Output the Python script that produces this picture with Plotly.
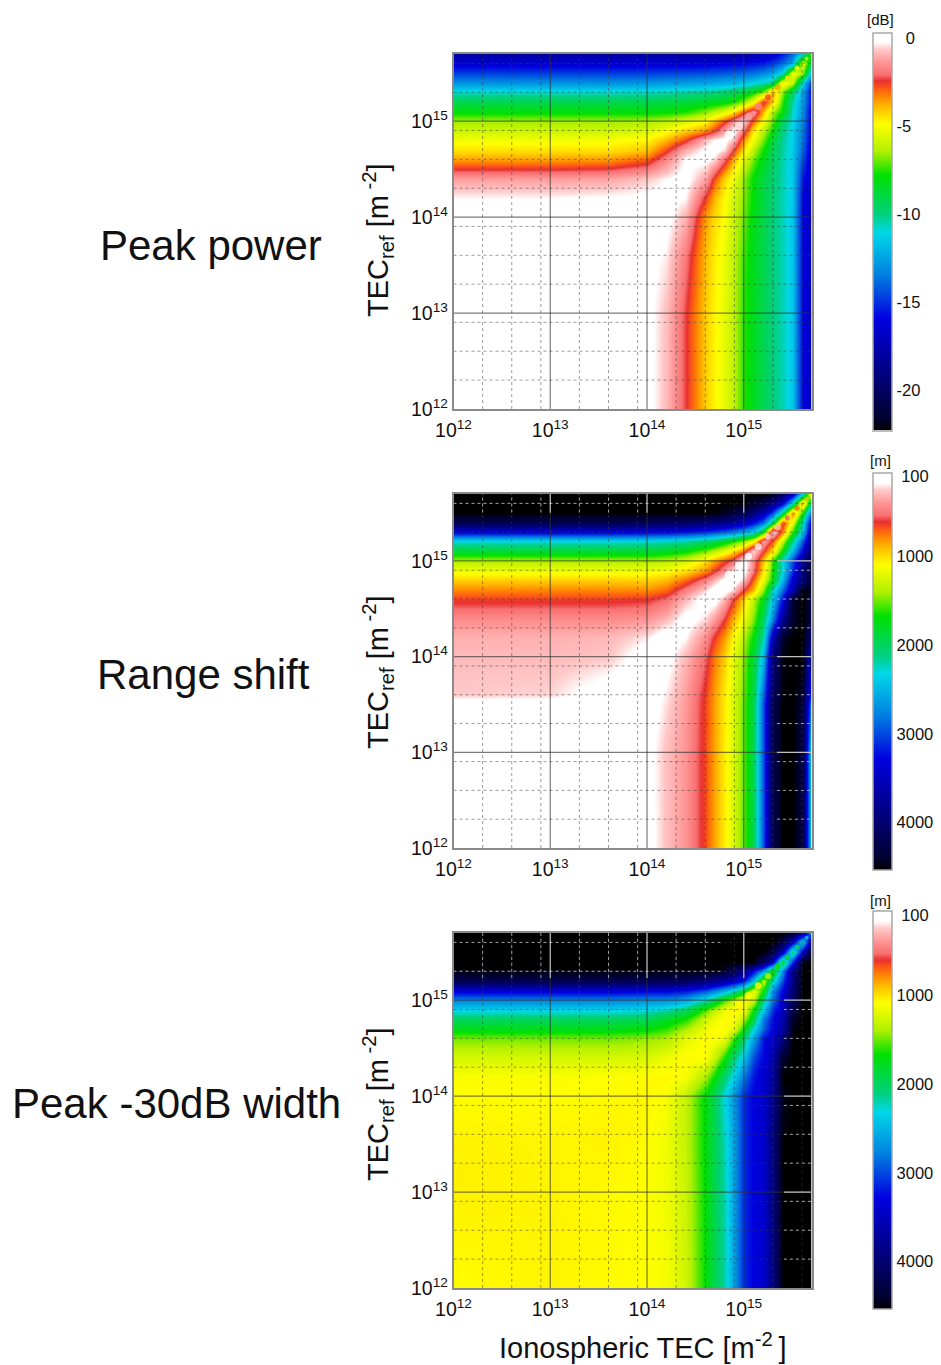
import plotly.graph_objects as go

W, H = 941, 1365

TEC_X = [1e12, 1e13, 4e13, 1e14, 1.6e14, 2.5e14, 4e14, 5e14, 6.3e14, 7.9e14, 1e15, 1.26e15, 1.6e15, 2e15, 2.5e15, 3.2e15, 4e15, 5e15]
TEC_Y = [1e12, 1e13, 3.2e13, 4e13, 1e14, 1.6e14, 2.5e14, 4e14, 5e14, 6.3e14, 7.9e14, 1e15, 1.26e15, 1.6e15, 2e15, 2.5e15, 3.2e15, 4e15, 5e15]
TICK_VALUES = [1e12, 1e13, 1e14, 1e15]
TICK_LABELS = ["10<sup>12</sup>", "10<sup>13</sup>", "10<sup>14</sup>", "10<sup>15</sup>"]
MAJOR_GRID = [1e13, 1e14, 1e15]
MINOR_GRID = [2e12, 4e12, 8e12, 2e13, 4e13, 8e13, 2e14, 4e14, 8e14, 2e15, 4e15]

PEAK_POWER_DB = [
    [0, 0, 0, 0, -.9, -2.4, -4.2, -4.8, -5.4, -6.2, -7.5, -8.4, -9.3, -10, -10.6, -11.6, -16, -17],
    [0, 0, 0, 0, -.85, -2.4, -4.2, -4.8, -5.4, -6.2, -7.5, -8.4, -9.3, -10, -10.6, -11.6, -16, -17],
    [0, 0, 0, 0, -.5, -2, -4, -4.7, -5.3, -6.2, -7.4, -8.4, -9.2, -10, -10.6, -11.6, -16, -17],
    [0, 0, 0, 0, -.4, -1.9, -4, -4.7, -5.3, -6.2, -7.3, -8.4, -9.2, -10, -10.6, -11.6, -16, -17],
    [0, 0, 0, 0, 0, -1, -3.6, -4.4, -5, -6, -7, -8.2, -9.1, -10, -10.6, -11.6, -16, -17],
    [-.3, -.3, -.2, -.1, 0, -.3, -2.6, -3.9, -4.9, -5.8, -6.8, -8, -9, -9.9, -10.6, -11.5, -16, -17],
    [-1.3, -1.3, -1.2, -.7, -.3, 0, -1.2, -2.8, -4.3, -5.3, -6.7, -8, -9, -9.8, -10.6, -11.5, -15.5, -17],
    [-3.7, -3.7, -3.6, -3, -1.7, -.2, 0, -.5, -2, -3.8, -5.5, -7, -8.3, -9.5, -10.5, -11.5, -14.5, -17],
    [-4.5, -4.5, -4.5, -4.1, -2.7, -1.1, -.1, 0, -.5, -2.5, -4.5, -6.3, -7.8, -9.3, -10.4, -11.4, -14, -16.8],
    [-5.2, -5.2, -5.1, -4.8, -3.9, -2.7, -.9, -.2, 0, -.9, -3.5, -5.3, -7, -8.8, -10.3, -11.4, -13.8, -16.5],
    [-5.9, -5.9, -5.9, -5.7, -5, -4.2, -3.4, -2.6, -1.2, 0, -2, -4.7, -6.3, -7.9, -10, -11.3, -13.5, -16.5],
    [-6.6, -6.6, -6.6, -6.5, -6.2, -5.7, -5, -3.9, -2.8, -1.6, -.3, -3, -5.2, -7, -9.5, -11.1, -13.3, -16.5],
    [-8, -8, -8, -8, -7.9, -7.6, -6.8, -6.2, -5.5, -4.5, -2.9, -1.3, -4, -6.5, -8, -10.8, -13, -16.5],
    [-9.2, -9.2, -9.2, -9.1, -9, -8.8, -8.5, -8.3, -8.1, -7.7, -6.7, -5.2, -2.2, -4.2, -7.5, -10.5, -12.8, -16],
    [-10.8, -10.8, -10.8, -10.7, -10.6, -10.4, -10.2, -10, -9.8, -9.4, -8.9, -8, -6.8, -3.4, -6.8, -9.5, -12.5, -16],
    [-13, -13, -13, -12.9, -12.8, -12.7, -12.5, -12.4, -12.2, -12, -11.7, -11.2, -10.6, -9.8, -4.5, -6, -11, -15.5],
    [-14.8, -14.8, -14.8, -14.8, -14.7, -14.6, -14.5, -14.4, -14.3, -14.2, -14, -13.7, -13.3, -12.6, -11, -5, -6.5, -12],
    [-16.5, -16.5, -16.5, -16.5, -16.5, -16.5, -16.4, -16.3, -16.2, -16.1, -16, -15.8, -15.5, -15, -14, -12.5, -5.5, -9],
    [-18, -18, -18, -18, -18, -18, -18, -18, -18, -18, -17.8, -17.5, -17, -16.5, -15.5, -14, -11, -7],
]

RANGE_SHIFT_M = [
    [60, 60, 70, 100, 280, 400, 660, 850, 1040, 1250, 1520, 1950, 3000, 4200, 4532, 4532, 4300, 2200],
    [60, 60, 70, 110, 280, 400, 660, 850, 1040, 1250, 1520, 1950, 3000, 4200, 4532, 4532, 4300, 2200],
    [70, 65, 65, 70, 220, 385, 650, 840, 1035, 1250, 1520, 1950, 3000, 4200, 4532, 4532, 4350, 2700],
    [250, 230, 70, 60, 200, 370, 640, 830, 1030, 1240, 1500, 1900, 2900, 4100, 4500, 4532, 4400, 3000],
    [290, 290, 260, 70, 110, 300, 540, 760, 950, 1200, 1450, 1850, 2500, 3900, 4500, 4532, 4532, 3500],
    [320, 320, 300, 200, 60, 170, 420, 620, 820, 1080, 1350, 1700, 2200, 3500, 4400, 4532, 4532, 4000],
    [430, 430, 430, 400, 300, 100, 220, 380, 600, 880, 1150, 1480, 2000, 2700, 3800, 4400, 4532, 4300],
    [640, 640, 640, 620, 530, 300, 60, 90, 300, 620, 950, 1350, 1750, 2400, 3200, 4400, 4532, 4300],
    [780, 780, 780, 790, 720, 480, 230, 70, 80, 230, 600, 900, 1450, 2200, 2850, 3600, 4532, 4400],
    [950, 950, 950, 960, 900, 720, 470, 300, 100, 60, 250, 720, 1200, 1700, 2500, 3400, 3950, 4400],
    [1150, 1150, 1150, 1150, 1100, 1000, 800, 620, 420, 170, 70, 500, 1020, 1650, 2320, 3100, 3950, 4400],
    [1380, 1380, 1380, 1380, 1350, 1250, 1000, 830, 660, 520, 70, 450, 950, 1550, 2300, 3000, 3800, 4300],
    [1850, 1850, 1850, 1850, 1780, 1700, 1500, 1350, 1200, 1000, 760, 200, 600, 1000, 1700, 2500, 3300, 4200],
    [2300, 2300, 2300, 2280, 2250, 2180, 2050, 1950, 1800, 1650, 1450, 1150, 350, 650, 1300, 2100, 2900, 4000],
    [3350, 3350, 3350, 3300, 3280, 3200, 3100, 3000, 2900, 2750, 2600, 2350, 1700, 150, 750, 1600, 2400, 3700],
    [4200, 4200, 4200, 4150, 4100, 4050, 3950, 3900, 3800, 3700, 3500, 3200, 2800, 1950, 550, 1200, 2200, 3500],
    [4532, 4532, 4532, 4532, 4532, 4532, 4532, 4500, 4450, 4300, 4200, 3950, 3550, 3000, 2000, 700, 1650, 3000],
    [4532, 4532, 4532, 4532, 4532, 4532, 4532, 4532, 4532, 4532, 4532, 4400, 4250, 3900, 3400, 2300, 800, 2000],
    [4532, 4532, 4532, 4532, 4532, 4532, 4532, 4532, 4532, 4532, 4532, 4532, 4532, 4450, 4100, 3500, 2300, 950],
]

WIDTH_30DB_M = [
    [1090, 1060, 1080, 1100, 1130, 1280, 1680, 1950, 2200, 2600, 3100, 3300, 3400, 3900, 4532, 4532, 4532, 4532],
    [1050, 1060, 1075, 1100, 1150, 1300, 1680, 1950, 2200, 2600, 3100, 3300, 3400, 3900, 4532, 4532, 4532, 4532],
    [1055, 1065, 1060, 1090, 1150, 1320, 1700, 1950, 2220, 2600, 3100, 3300, 3400, 3900, 4532, 4532, 4532, 4532],
    [1060, 1065, 1055, 1080, 1150, 1320, 1700, 1950, 2250, 2600, 3100, 3300, 3400, 3900, 4500, 4532, 4532, 4532],
    [1090, 1090, 1080, 1070, 1120, 1320, 1700, 1980, 2300, 2650, 3100, 3300, 3400, 3800, 4450, 4532, 4532, 4532],
    [1110, 1110, 1100, 1080, 1070, 1120, 1400, 1680, 2050, 2350, 2800, 3200, 3400, 3700, 4532, 4532, 4532, 4532],
    [1250, 1250, 1250, 1230, 1150, 1080, 1090, 1300, 1650, 2050, 2400, 3000, 3300, 3600, 4400, 4532, 4532, 4532],
    [1500, 1500, 1500, 1450, 1400, 1200, 1090, 1090, 1150, 1550, 2000, 2600, 3200, 3400, 3900, 4532, 4532, 4532],
    [1750, 1750, 1750, 1700, 1600, 1400, 1150, 1090, 1085, 1200, 1650, 2300, 2900, 3300, 3700, 4500, 4532, 4532],
    [2000, 2000, 2000, 1950, 1800, 1650, 1300, 1150, 1085, 1085, 1350, 1900, 2800, 3250, 3600, 4400, 4532, 4532],
    [2350, 2350, 2350, 2300, 2200, 2000, 1550, 1350, 1150, 1085, 1090, 1700, 2400, 3100, 3500, 4300, 4532, 4532],
    [2750, 2750, 2750, 2700, 2700, 2600, 2200, 1950, 1600, 1350, 1100, 1250, 2100, 2800, 3400, 4100, 4532, 4532],
    [3350, 3350, 3350, 3300, 3300, 3200, 2950, 2750, 2500, 2250, 1800, 1130, 1700, 2700, 3300, 4000, 4532, 4532],
    [4200, 4200, 4200, 4200, 4150, 4100, 3950, 3800, 3650, 3450, 3200, 2450, 1250, 2200, 3000, 3900, 4532, 4532],
    [4500, 4500, 4500, 4500, 4500, 4500, 4500, 4500, 4400, 4200, 3900, 3300, 2600, 1500, 2700, 3900, 4532, 4532],
    [4532, 4532, 4532, 4532, 4532, 4532, 4532, 4532, 4532, 4532, 4532, 4532, 4100, 3500, 1750, 3100, 4500, 4532],
    [4532, 4532, 4532, 4532, 4532, 4532, 4532, 4532, 4532, 4532, 4532, 4532, 4532, 4300, 3500, 2000, 3400, 4532],
    [4532, 4532, 4532, 4532, 4532, 4532, 4532, 4532, 4532, 4532, 4532, 4532, 4532, 4532, 4300, 3400, 2250, 3800],
    [4532, 4532, 4532, 4532, 4532, 4532, 4532, 4532, 4532, 4532, 4532, 4532, 4532, 4532, 4532, 4400, 3700, 2600],
]

# Values along the line TEC = TECref, read between the grid nodes above
RIDGE_TEC = [7.1e14, 8.9e14, 1.12e15, 1.41e15, 1.78e15, 2.24e15, 2.82e15, 3.55e15, 4.47e15]
RIDGE_PEAK_POWER_DB = [0, -.5, -1.3, -1.8, -2.8, -3.8, -4.5, -5, -6]
RIDGE_RANGE_SHIFT_M = [60, 70, 90, 200, 250, 300, 550, 750, 900]
RIDGE_WIDTH_30DB_M = [1085, 1085, 1100, 1150, 1350, 1650, 1850, 2100, 2450]
RIDGE_SIZE_PX = [9, 8, 7, 7, 6, 6, 5, 5, 4]

DB_TICKS = [0, -5, -10, -15, -20]
M_TICKS = [100, 1000, 2000, 3000, 4000]

COLORSCALE = [
    [0.0, "#000000"], [0.03, "#000030"], [0.12, "#000070"], [0.28, "#0000e0"],
    [0.39, "#0080e0"], [0.495, "#00d8e8"], [0.54, "#00d080"], [0.64, "#00e000"],
    [0.70, "#b0f000"], [0.768, "#ffff00"], [0.80, "#ffd000"], [0.83, "#ff9800"],
    [0.855, "#ff6010"], [0.877, "#e83030"], [0.893, "#f87070"], [0.923, "#ff9494"],
    [0.956, "#ffc8c8"], [0.975, "#ffffff"], [1.0, "#ffffff"],
]

AX_LEFT, AX_RIGHT = 453.5, 811.5
PANELS = [
    dict(top=54, bottom=409, bar_top=32.5, bar_bottom=430, unit="[dB]", unit_y=20,
         label="Peak power", label_x=211, label_y=245, title_y=240,
         z=PEAK_POWER_DB, ridge=RIDGE_PEAK_POWER_DB, zmin=-22.3, zmax=0.3, tickvals=DB_TICKS,
         ticktext=["\u00a0\u00a00", "-5", "-10", "-15", "-20"], light=[]),
    dict(top=494, bottom=848, bar_top=472.7, bar_bottom=870, unit="[m]", unit_y=460,
         label="Range shift", label_x=203, label_y=674, title_y=672,
         z=[[-v for v in r] for r in RANGE_SHIFT_M], ridge=[-v for v in RIDGE_RANGE_SHIFT_M], zmin=-4532, zmax=-55,
         tickvals=[-v for v in M_TICKS], ticktext=["\u00a0100", "1000", "2000", "3000", "4000"],
         light=[("top", 3.2e15), ("right", 2.2e15)]),
    dict(top=933, bottom=1288, bar_top=911, bar_bottom=1309, unit="[m]", unit_y=900,
         label="Peak -30dB width", label_x=176, label_y=1103, title_y=1104,
         z=[[-v for v in r] for r in WIDTH_30DB_M], ridge=[-v for v in RIDGE_WIDTH_30DB_M], zmin=-4532, zmax=-55,
         tickvals=[-v for v in M_TICKS], ticktext=["\u00a0100", "1000", "2000", "3000", "4000"],
         light=[("top", 1.7e15), ("right", 2.6e15)]),
]

FONT = "Liberation Sans, Arial, sans-serif"
AX_LOW, AX_HIGH = 1e12, 5.01e15


def vlines(xaxis, yaxis, positions, color, width, dash, low=AX_LOW, high=AX_HIGH):
    xs, ys = [], []
    for p in positions:
        xs += [p, p, None]
        ys += [low, high, None]
    return go.Scatter(x=xs, y=ys, xaxis=xaxis, yaxis=yaxis, mode="lines", hoverinfo="skip",
                      showlegend=False, line=dict(color=color, width=width, dash=dash))


def hlines(xaxis, yaxis, positions, color, width, dash, low=AX_LOW, high=AX_HIGH):
    xs, ys = [], []
    for p in positions:
        xs += [low, high, None]
        ys += [p, p, None]
    return go.Scatter(x=xs, y=ys, xaxis=xaxis, yaxis=yaxis, mode="lines", hoverinfo="skip",
                      showlegend=False, line=dict(color=color, width=width, dash=dash))


fig = go.Figure()
layout = dict(width=W, height=H, margin=dict(l=0, r=0, t=0, b=0, autoexpand=False), autosize=False,
              paper_bgcolor="white", plot_bgcolor="white", font=dict(family=FONT, color="#111111"),
              showlegend=False)
annotations = []

for i, p in enumerate(PANELS):
    n = "" if i == 0 else str(i + 1)
    xa, ya = "x" + n, "y" + n
    fig.add_trace(go.Heatmap(
        x=TEC_X, y=TEC_Y, z=p["z"], xaxis=xa, yaxis=ya, zsmooth="best", zmin=p["zmin"], zmax=p["zmax"],
        colorscale=COLORSCALE, hoverinfo="skip",
        colorbar=dict(x=873 / W, xanchor="left", xpad=0, ypad=0, thickness=19, thicknessmode="pixels",
                      y=1 - p["bar_top"] / H, yanchor="top", lenmode="pixels",
                      len=p["bar_bottom"] - p["bar_top"], tickmode="array", tickvals=p["tickvals"],
                      ticktext=p["ticktext"], ticks="", ticklen=0,
                      tickfont=dict(size=16.5, family=FONT, color="#111111"),
                      outlinecolor="#a8a8a8", outlinewidth=1.5, borderwidth=0),
    ))
    fig.add_trace(go.Scatter(
        x=RIDGE_TEC, y=RIDGE_TEC, xaxis=xa, yaxis=ya, mode="markers", hoverinfo="skip", showlegend=False,
        marker=dict(color=p["ridge"], cmin=p["zmin"], cmax=p["zmax"], colorscale=COLORSCALE, showscale=False,
                    size=RIDGE_SIZE_PX, opacity=0.85, line=dict(width=0)),
    ))
    minor_c, major_c = "rgba(60,60,60,0.5)", "rgba(50,50,50,0.65)"
    fig.add_trace(vlines(xa, ya, MINOR_GRID, minor_c, 1, "3px,3px"))
    fig.add_trace(hlines(xa, ya, MINOR_GRID, minor_c, 1, "3px,3px"))
    fig.add_trace(vlines(xa, ya, MAJOR_GRID, major_c, 1.2, "solid"))
    fig.add_trace(hlines(xa, ya, MAJOR_GRID, major_c, 1.2, "solid"))
    for side, start in p["light"]:
        if side == "top":
            fig.add_trace(vlines(xa, ya, [v for v in MAJOR_GRID if v < 2e15], "rgba(220,220,220,0.85)", 1.2, "solid", low=start))
            fig.add_trace(vlines(xa, ya, [v for v in MINOR_GRID if v < 6e14], "rgba(220,220,220,0.7)", 1, "3px,3px", low=start))
            fig.add_trace(hlines(xa, ya, [v for v in MINOR_GRID if v >= start], "rgba(220,220,220,0.7)", 1, "3px,3px", high=6e14))
        else:
            fig.add_trace(hlines(xa, ya, [v for v in MAJOR_GRID if v < 2e15], "rgba(220,220,220,0.85)", 1.2, "solid", low=start))
            fig.add_trace(hlines(xa, ya, [v for v in MINOR_GRID if v < 1.5e15], "rgba(220,220,220,0.7)", 1, "3px,3px", low=start))
    common = dict(type="log", range=[12, 15.7], tickmode="array", tickvals=TICK_VALUES, ticktext=TICK_LABELS,
                  ticks="", showgrid=False, zeroline=False, showline=True, mirror=True,
                  linecolor="#8a8a8a", linewidth=1.5, tickfont=dict(size=19.5, family=FONT, color="#111111"))
    layout["xaxis" + n] = dict(common, domain=[AX_LEFT / W, AX_RIGHT / W], anchor=ya, ticklabelstandoff=3)
    layout["yaxis" + n] = dict(common, domain=[1 - p["bottom"] / H, 1 - p["top"] / H], anchor=xa)
    annotations.append(dict(text=p["label"], x=p["label_x"] / W, y=1 - p["label_y"] / H, xref="paper", yref="paper",
                            showarrow=False, font=dict(size=42, family=FONT, color="#111111"),
                            xanchor="center", yanchor="middle"))
    annotations.append(dict(text="TEC<sub>ref</sub> [m<sup> -2</sup>]", x=378 / W, y=1 - p["title_y"] / H,
                            xref="paper", yref="paper", showarrow=False, textangle=-90,
                            font=dict(size=29, family=FONT, color="#111111"), xanchor="center", yanchor="middle"))
    annotations.append(dict(text=p["unit"], x=880 / W, y=1 - p["unit_y"] / H, xref="paper", yref="paper",
                            showarrow=False, font=dict(size=15, family=FONT, color="#111111"),
                            xanchor="center", yanchor="middle"))

annotations.append(dict(text="Ionospheric TEC [m<sup>-2 </sup>]", x=642 / W, y=1 - 1346 / H, xref="paper", yref="paper",
                        showarrow=False, font=dict(size=29, family=FONT, color="#111111"),
                        xanchor="center", yanchor="middle"))
layout["annotations"] = annotations
fig.update_layout(**layout)
fig.write_html("out.html", config={"displayModeBar": False},
               post_script="document.body.style.margin='0';document.body.style.overflow='hidden';")
